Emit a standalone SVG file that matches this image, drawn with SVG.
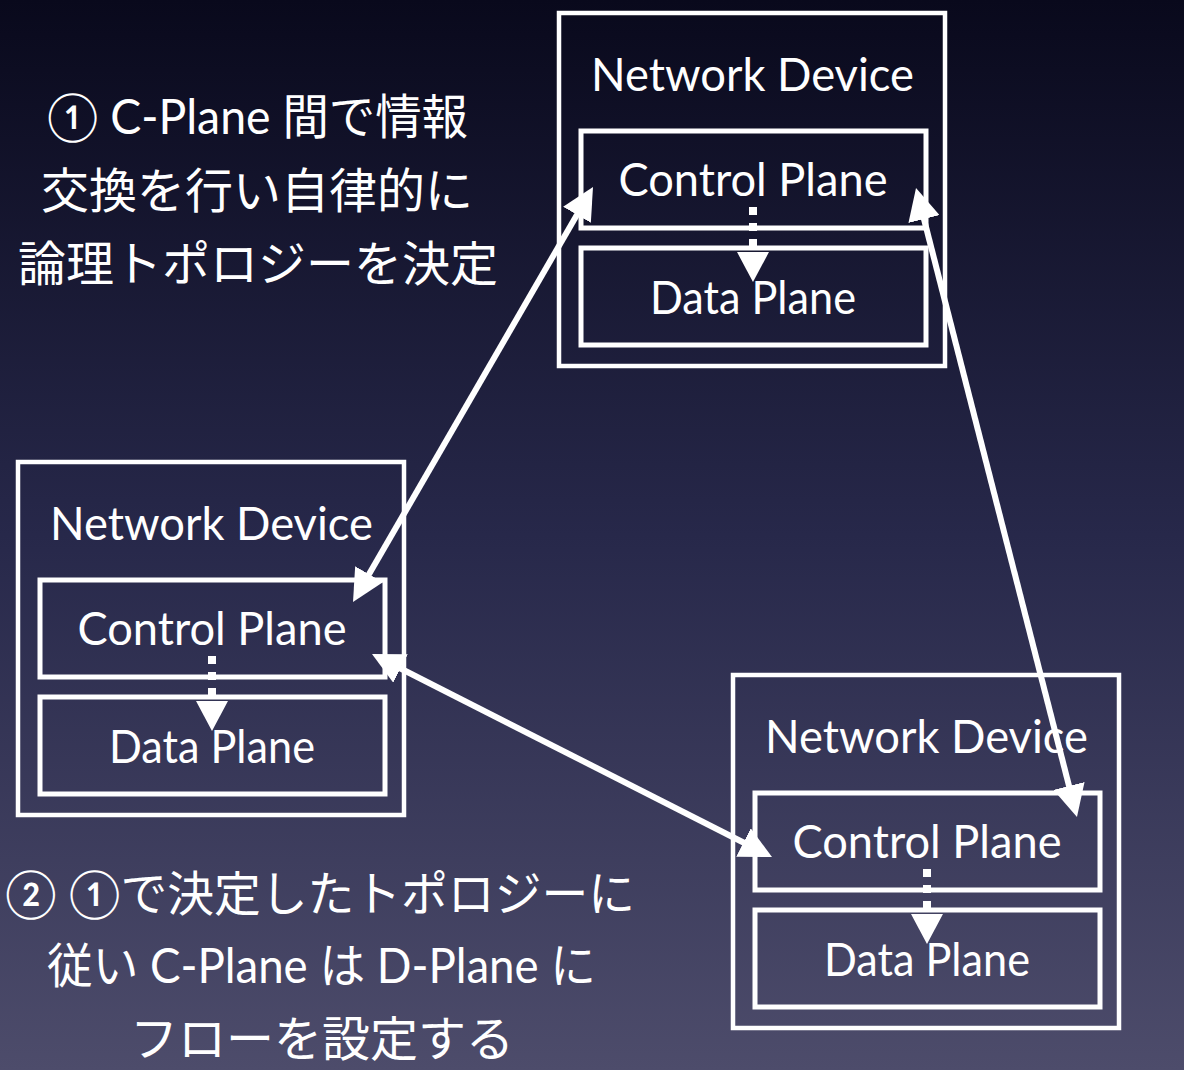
<svg xmlns="http://www.w3.org/2000/svg" width="1184" height="1070" viewBox="0 0 1184 1070">
  <defs>
    <linearGradient id="bg" x1="0" y1="0" x2="0" y2="1">
      <stop offset="0" stop-color="#09091c"/>
      <stop offset="0.5" stop-color="#27284a"/>
      <stop offset="1" stop-color="#4d4c6b"/>
    </linearGradient>
    <marker id="ah" markerUnits="userSpaceOnUse" markerWidth="32" markerHeight="32" viewBox="0 0 32 32" refX="22" refY="16" orient="auto-start-reverse">
      <path d="M0,0 L32,16 L0,32 z" fill="#ffffff"/>
    </marker>
    <g id="device">
      <rect class="outer" x="0" y="0" width="386" height="353"/>
      <rect class="inner" x="22" y="118" width="345" height="97"/>
      <rect class="inner" x="22" y="235" width="345" height="97"/>
      <text class="lbl" x="193.5" y="78" textLength="323" lengthAdjust="spacingAndGlyphs">Network Device</text>
      <text class="lbl" x="194" y="183" textLength="269" lengthAdjust="spacingAndGlyphs">Control Plane</text>
      <text class="lbl" x="194" y="301" textLength="206" lengthAdjust="spacingAndGlyphs">Data Plane</text>
      <line class="dash" x1="194" y1="194" x2="194" y2="241"/>
      <path class="dhead" d="M178,239 L210,239 L194,269 z"/>
    </g>
  </defs>
  <style>
    .outer { fill: none; stroke: #ffffff; stroke-width: 4.5; }
    .inner { fill: none; stroke: #ffffff; stroke-width: 5; }
    .lbl { font-family: "Lato", "Liberation Sans", sans-serif; font-size: 46px; fill: #ffffff; text-anchor: middle; }
    .dash { stroke: #ffffff; stroke-width: 8; stroke-dasharray: 8 8; }
    .dhead { fill: #ffffff; }
    .conn { stroke: #ffffff; stroke-width: 6; fill: none; marker-start: url(#ah); marker-end: url(#ah); }
    .note { font-family: "Lato", "Noto Sans CJK JP", sans-serif; font-size: 48px; fill: #ffffff; text-anchor: middle; }
  </style>
  <rect x="0" y="0" width="1184" height="1070" fill="url(#bg)"/>

  <g id="device-top">
    <use href="#device" x="559" y="13"/>
  </g>
  <g id="device-left">
    <use href="#device" x="18" y="462"/>
  </g>
  <g id="device-right">
    <use href="#device" x="733" y="675"/>
  </g>

  <g id="note-1">
    <text class="note" x="257.5" y="134" textLength="421" lengthAdjust="spacingAndGlyphs">① C-Plane 間で情報</text>
    <text class="note" x="257" y="208">交換を行い自律的に</text>
    <text class="note" x="258" y="281">論理トポロジーを決定</text>
  </g>
  <g id="note-2">
    <text class="note" x="320" y="911" textLength="630" lengthAdjust="spacingAndGlyphs">② ①で決定したトポロジーに</text>
    <text class="note" x="321.5" y="983" textLength="549" lengthAdjust="spacingAndGlyphs">従い C-Plane は D-Plane に</text>
    <text class="note" x="322" y="1056">フローを設定する</text>
  </g>

  <g id="connectors">
    <line class="conn" x1="588" y1="195.7" x2="358" y2="593.3"/>
    <line class="conn" x1="918.5" y1="197.7" x2="1074.5" y2="807.3"/>
    <line class="conn" x1="380.9" y1="658.5" x2="763.1" y2="852.5"/>
  </g>
</svg>
